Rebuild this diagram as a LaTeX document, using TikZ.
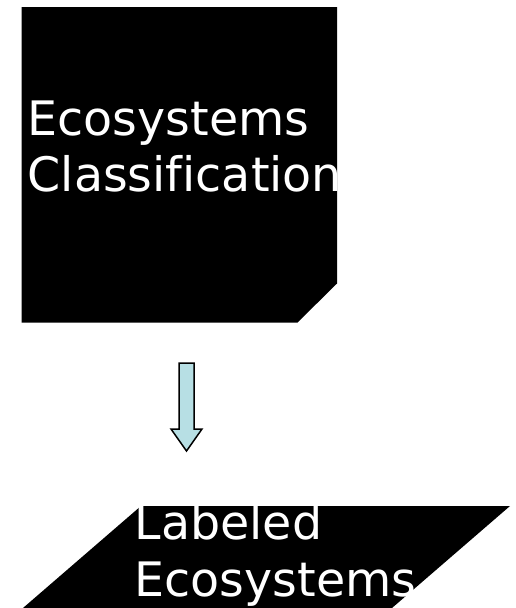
\documentclass[tikz,border=0pt]{standalone}
\usepackage{fontspec}
\setmainfont[Ligatures=NoCommon]{DejaVu Sans}
\definecolor{arrowfill}{RGB}{183,223,228}
\tikzset{
  blackshape/.style={fill=black, draw=none},
  whitetext/.style={text=white, inner sep=0pt, anchor=base west, font=\fontsize{47.5}{56}\selectfont},
  flowarrow/.style={fill=arrowfill, draw=black, line width=1.5pt, line join=miter}
}
\begin{document}
\begin{tikzpicture}[x=1pt,y=-1pt]
\useasboundingbox (0,0) rectangle (515,608);
% top process box with cut corner
\path[blackshape] (21.5,7) -- (337,7) -- (337,283.5) -- (297.5,322.5) -- (21.5,322.5) -- cycle;
\node[whitetext] (t1) at (27.5,135) {Ecosystems};
\node[whitetext] (t2) at (27.5,191.7) {Classification};
% block arrow
\path[flowarrow] (179,363) -- (194,363) -- (194,429) -- (202,429) -- (186.5,451) -- (171,429) -- (179,429) -- cycle;
% parallelogram (data)
\path[blackshape] (141,506) -- (510,506) -- (392,608) -- (23,608) -- cycle;
\node[whitetext] (b1) at (134.5,539.3) {Labeled};
\node[whitetext] (b2) at (134.5,596.7) {Ecosystems};
\end{tikzpicture}
\end{document}
